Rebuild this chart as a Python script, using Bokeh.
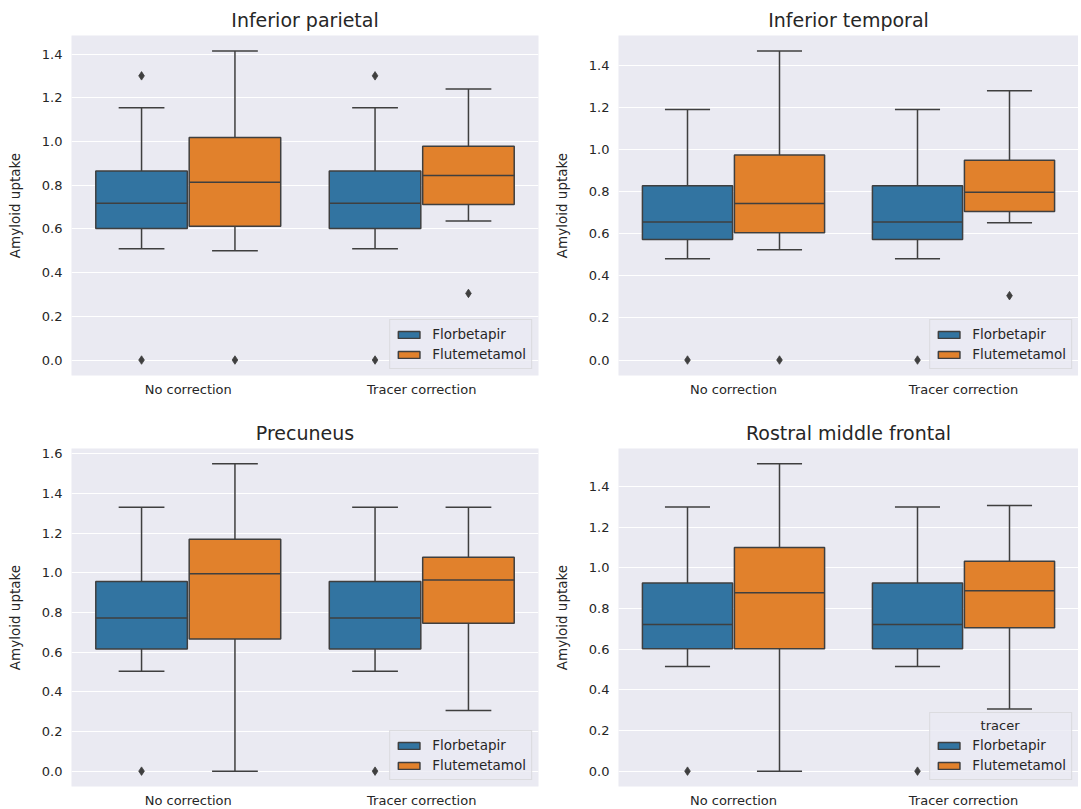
from bokeh.plotting import figure
from bokeh.layouts import column, row
from bokeh.models import (ColumnDataSource, FactorRange, Range1d, SingleIntervalTicker,
                          PrintfTickFormatter)
from bokeh.transform import dodge
from bokeh.embed import file_html
from bokeh.resources import INLINE

# ---------------- data ----------------
conditions = ["No correction", "Tracer correction"]
tracers = ["Florbetapir", "Flutemetamol"]
colors = ["#3274a1", "#e1812c"]
titles = ["Inferior parietal", "Inferior temporal", "Precuneus", "Rostral middle frontal"]

# each entry: [lower whisker, Q1, median, Q3, upper whisker], one per condition
ip_florbetapir = [[0.509, 0.602, 0.718, 0.865, 1.155], [0.509, 0.602, 0.718, 0.865, 1.155]]
ip_flutemetamol = [[0.500, 0.612, 0.814, 1.019, 1.415], [0.636, 0.712, 0.845, 0.979, 1.241]]
ip_florbetapir_out = [[1.301, 0.0], [1.301, 0.0]]
ip_flutemetamol_out = [[0.0], [0.305]]

it_florbetapir = [[0.481, 0.573, 0.656, 0.828, 1.191], [0.481, 0.573, 0.656, 0.828, 1.191]]
it_flutemetamol = [[0.524, 0.605, 0.744, 0.974, 1.469], [0.652, 0.706, 0.797, 0.950, 1.280]]
it_florbetapir_out = [[0.0], [0.0]]
it_flutemetamol_out = [[0.0], [0.306]]

pc_florbetapir = [[0.504, 0.616, 0.772, 0.957, 1.331], [0.504, 0.616, 0.772, 0.957, 1.331]]
pc_flutemetamol = [[0.0, 0.666, 0.996, 1.170, 1.550], [0.306, 0.746, 0.964, 1.079, 1.331]]
pc_florbetapir_out = [[0.0], [0.0]]
pc_flutemetamol_out = [[], []]

rmf_florbetapir = [[0.514, 0.602, 0.721, 0.925, 1.299], [0.514, 0.602, 0.721, 0.925, 1.299]]
rmf_flutemetamol = [[0.0, 0.602, 0.877, 1.100, 1.511], [0.306, 0.705, 0.887, 1.032, 1.306]]
rmf_florbetapir_out = [[0.0], [0.0]]
rmf_flutemetamol_out = [[], []]

legend_title = "tracer"

# ---------------- styling ----------------
FONT = "DejaVu Sans"
TEXT = "#262626"
GRAY = "#3f3f3f"
BG = "#eaeaf2"
BOX_W = 0.392
OFFSETS = [-0.2, 0.2]


def make_panel(title, stats, outs, ltitle, fw, fh, bl, br, bt, bb):
    ymax = max(max(max(s) for s in st) for st in stats)
    ymax = max([ymax] + [v for o in outs for lst in o for v in lst])
    ymin = 0.0
    pad = 0.05 * (ymax - ymin)
    p = figure(x_range=FactorRange(*conditions), y_range=Range1d(ymin - pad, ymax + pad),
               frame_width=fw, frame_height=fh, min_border_left=bl, min_border_right=br,
               min_border_top=bt, min_border_bottom=bb, output_backend="svg",
               toolbar_location=None, title=title)
    p.background_fill_color = BG
    p.border_fill_color = "white"
    p.outline_line_color = None
    p.title.align = "center"
    p.title.text_font = FONT
    p.title.text_font_size = "19px"
    p.title.text_font_style = "normal"
    p.title.text_color = TEXT
    p.title.standoff = 9

    for ax in (p.xaxis[0], p.yaxis[0]):
        ax.axis_line_color = None
        ax.major_tick_line_color = None
        ax.minor_tick_line_color = None
        ax.major_tick_out = 0
        ax.major_tick_in = 0
        ax.major_label_text_font = FONT
        ax.major_label_text_font_size = "13px"
        ax.major_label_text_color = TEXT
    p.xaxis.major_label_standoff = 6
    p.yaxis.major_label_standoff = 9
    p.yaxis.ticker = SingleIntervalTicker(interval=0.2, num_minor_ticks=0)
    p.yaxis.formatter = PrintfTickFormatter(format="%.1f")
    p.yaxis.axis_label = "Amyloid uptake"
    p.yaxis.axis_label_text_font = FONT
    p.yaxis.axis_label_text_font_size = "13.5px"
    p.yaxis.axis_label_text_font_style = "normal"
    p.yaxis.axis_label_text_color = TEXT
    p.yaxis.axis_label_standoff = 16
    p.xgrid.grid_line_color = None
    p.ygrid.grid_line_color = "white"
    p.ygrid.grid_line_width = 1.2

    for t, (tracer, color, off) in enumerate(zip(tracers, colors, OFFSETS)):
        st = stats[t]
        src = ColumnDataSource(dict(cond=conditions,
                                    lo=[s[0] for s in st], q1=[s[1] for s in st],
                                    med=[s[2] for s in st], q3=[s[3] for s in st],
                                    hi=[s[4] for s in st]))
        xc = dodge("cond", off, range=p.x_range)
        xl = dodge("cond", off - BOX_W / 2, range=p.x_range)
        xr = dodge("cond", off + BOX_W / 2, range=p.x_range)
        cl = dodge("cond", off - BOX_W / 4, range=p.x_range)
        cr = dodge("cond", off + BOX_W / 4, range=p.x_range)
        # whiskers
        p.segment(x0=xc, x1=xc, y0="q3", y1="hi", source=src, line_color=GRAY, line_width=1.5)
        p.segment(x0=xc, x1=xc, y0="q1", y1="lo", source=src, line_color=GRAY, line_width=1.5)
        # caps
        p.segment(x0=cl, x1=cr, y0="hi", y1="hi", source=src, line_color=GRAY, line_width=1.5)
        p.segment(x0=cl, x1=cr, y0="lo", y1="lo", source=src, line_color=GRAY, line_width=1.5)
        # box
        p.vbar(x=xc, width=BOX_W, bottom="q1", top="q3", source=src, fill_color=color,
               line_color=GRAY, line_width=1.5, legend_label=tracer)
        # median
        p.segment(x0=xl, x1=xr, y0="med", y1="med", source=src, line_color=GRAY, line_width=1.5)
        # outliers
        oc, ov = [], []
        for c, lst in zip(conditions, outs[t]):
            for v in lst:
                oc.append(c)
                ov.append(v)
        if oc:
            osrc = ColumnDataSource(dict(cond=oc, val=ov))
            p.scatter(x=dodge("cond", off, range=p.x_range), y="val", source=osrc,
                      marker="diamond", size=8.5, fill_color=GRAY, line_color=GRAY,
                      line_width=0.8)

    lg = p.legend[0]
    lg.location = "bottom_right"
    lg.margin = 6
    lg.padding = 5
    lg.spacing = 2
    lg.label_height = 18
    lg.glyph_height = 9
    lg.glyph_width = 27
    lg.label_standoff = 10
    lg.label_text_font = FONT
    lg.label_text_font_size = "13.5px"
    lg.label_text_color = TEXT
    lg.background_fill_color = BG
    lg.background_fill_alpha = 0.8
    lg.border_line_color = "#cccccc"
    lg.border_line_width = 1
    if ltitle:
        # non-breaking spaces push the title towards the centre of the legend box
        lg.title = "\u00a0" * 11 + ltitle
        lg.title_text_font = FONT
        lg.title_text_font_size = "13px"
        lg.title_text_font_style = "normal"
        lg.title_text_color = TEXT
        lg.title_standoff = 3
    return p


p1 = make_panel(titles[0], [ip_florbetapir, ip_flutemetamol],
                [ip_florbetapir_out, ip_flutemetamol_out], None,
                467, 340, 71, 10, 35, 40)
p2 = make_panel(titles[1], [it_florbetapir, it_flutemetamol],
                [it_florbetapir_out, it_flutemetamol_out], None,
                460, 340, 70, 0, 35, 40)
p3 = make_panel(titles[2], [pc_florbetapir, pc_flutemetamol],
                [pc_florbetapir_out, pc_flutemetamol_out], None,
                467, 338, 71, 10, 33, 21)
p4 = make_panel(titles[3], [rmf_florbetapir, rmf_flutemetamol],
                [rmf_florbetapir_out, rmf_flutemetamol_out], legend_title,
                460, 338, 70, 0, 33, 21)

layout = column(row(p1, p2), row(p3, p4))
open("out.html", "w").write(file_html(layout, INLINE))
